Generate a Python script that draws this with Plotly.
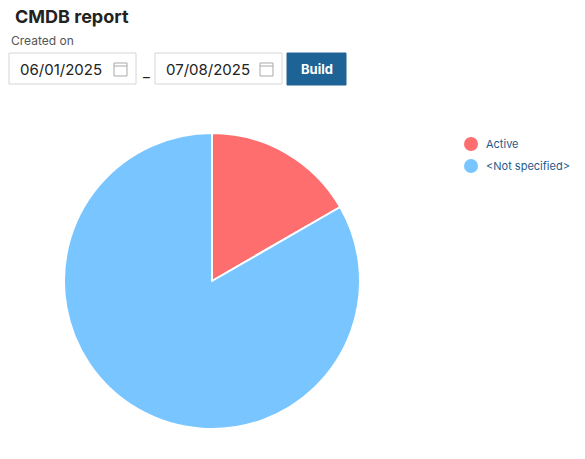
import plotly.graph_objects as go

labels = ["Active", "<Not specified>"]
values = [1, 5]
colors = ["#ff6e6e", "#79c5ff"]
date_from = "06/01/2025"
date_to = "07/08/2025"

W, H = 585, 459
OFF = 8
def X(p): return (p - OFF) / W
def Y(p): return 1 - (p - OFF) / H

fig = go.Figure(go.Pie(
    labels=labels, values=values, sort=False, direction="clockwise", rotation=0,
    marker=dict(colors=colors, line=dict(color="white", width=2)),
    textinfo="none", hoverinfo="label+value", showlegend=False,
    domain=dict(x=[X(64), X(360)], y=[Y(429), Y(133)]),
))

shapes = []
ann = []
F = "Inter, Roboto, sans-serif"
ann.append(dict(x=X(13), y=Y(16), text="<b>CMDB report</b>", showarrow=False, xanchor="left", yanchor="middle",
                font=dict(family=F, size=18, color="#222222")))
ann.append(dict(x=X(9), y=Y(41), text="Created on", showarrow=False, xanchor="left", yanchor="middle",
                font=dict(family=F, size=12, color="#555555")))
for (x0, x1, txt) in [(9, 136, date_from), (155, 282, date_to)]:
    shapes.append(dict(type="rect", xref="paper", yref="paper", x0=X(x0), x1=X(x1), y0=Y(84), y1=Y(53),
                       line=dict(color="#d6d6d6", width=1), fillcolor="white", layer="above"))
    ann.append(dict(x=X(x0 + 9), y=Y(69), text=txt, showarrow=False, xanchor="left", yanchor="middle",
                    font=dict(family=F, size=15, color="#222222")))
    ix = x1 - 22
    shapes.append(dict(type="rect", xref="paper", yref="paper", x0=X(ix), x1=X(ix + 13), y0=Y(76), y1=Y(63),
                       line=dict(color="#a9a9a9", width=1), fillcolor="white", layer="above"))
    shapes.append(dict(type="line", xref="paper", yref="paper", x0=X(ix), x1=X(ix + 13), y0=Y(66), y1=Y(66),
                       line=dict(color="#a9a9a9", width=1), layer="above"))
ann.append(dict(x=X(146), y=Y(72), text="_", showarrow=False, xanchor="center", yanchor="middle",
                font=dict(family=F, size=15, color="#222222")))
shapes.append(dict(type="rect", xref="paper", yref="paper", x0=X(287), x1=X(346), y0=Y(85), y1=Y(53),
                   line=dict(color="#1e6396", width=1), fillcolor="#1e6396", layer="above"))
ann.append(dict(x=X(316.5), y=Y(69), text="<b>Build</b>", showarrow=False, xanchor="center", yanchor="middle",
                font=dict(family=F, size=13, color="white")))
for i, (lab, c) in enumerate(zip(labels, colors)):
    cy = 144 + 22 * i
    shapes.append(dict(type="circle", xref="paper", yref="paper", x0=X(464), x1=X(478), y0=Y(cy + 7), y1=Y(cy - 7),
                       line=dict(width=0), fillcolor=c, layer="above"))
    ann.append(dict(x=X(484), y=Y(cy), text=lab.replace("<", "&lt;").replace(">", "&gt;"), showarrow=False,
                    xanchor="left", yanchor="middle", font=dict(family=F, size=11, color="#1f5a8a")))

fig.update_layout(width=W, height=H, margin=dict(l=0, r=0, t=0, b=0), paper_bgcolor="white",
                  plot_bgcolor="white", shapes=shapes, annotations=ann)
fig.write_html("out.html")
